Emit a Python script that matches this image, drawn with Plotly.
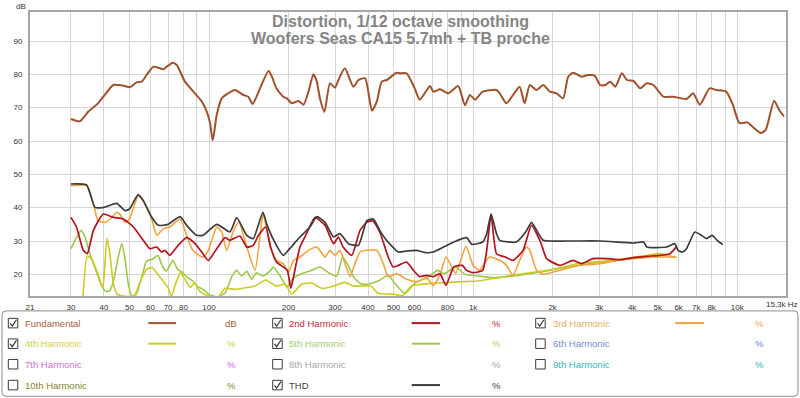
import math
import plotly.graph_objects as go

# ---------------- data ----------------
fund_f = [30, 32.4, 35, 38, 39.8, 43.4, 45.4, 47.5, 50.2, 53.2, 55.6, 58, 61.6, 64.3, 67.1, 69.2, 72.9, 75.5,
          81.1, 87.3, 93.8, 98, 100.9, 103.3, 107, 111.7, 118.2, 125.5, 134.9, 140.9, 146.3, 156, 168, 173,
          180, 191, 197, 206, 218, 228, 238, 248.5, 256, 263, 273.5, 287, 300, 309, 327, 352, 368, 390, 414,
          432, 451, 471, 513, 529, 560, 601, 628, 668, 687, 707, 749, 805, 878, 931, 972, 1016, 1087, 1226,
          1262, 1337, 1416, 1500, 1567, 1640, 1739, 1842, 1953, 2069, 2192, 2290, 2391, 2570, 2722, 2884,
          3030, 3166, 3308, 3455, 3661, 3824, 4050, 4290, 4545, 4815, 5249, 5722, 6427, 6809, 7212, 7865,
          8330, 9081, 9620, 10190, 10940, 11430, 12290, 12830, 13790, 14400, 15030]
fund_db = [66.6, 65.9, 68.9, 71.3, 73.3, 76.8, 76.8, 76.6, 76.1, 77.6, 77.8, 79.8, 82.3, 82.0, 81.5, 82.3, 83.5,
           82.8, 77.8, 74.8, 71.9, 68.9, 65.4, 60.2, 67.9, 72.8, 74.3, 75.3, 73.8, 73.3, 71.1, 75.8, 81.0,
           79.3, 75.8, 73.3, 72.8, 71.3, 72.0, 70.9, 74.8, 80.0, 77.8, 72.8, 68.7, 77.3, 76.0, 78.3, 81.8,
           76.3, 78.3, 78.8, 69.1, 71.9, 77.8, 78.3, 80.5, 80.3, 80.3, 75.8, 72.4, 75.3, 76.5, 74.8, 75.5,
           74.3, 76.5, 70.7, 73.8, 72.4, 74.8, 75.3, 74.3, 71.3, 73.8, 76.3, 71.3, 76.8, 75.3, 76.8, 74.8,
           74.3, 72.8, 79.3, 80.5, 79.3, 79.8, 79.6, 76.8, 76.8, 77.8, 76.3, 80.3, 78.3, 78.0, 75.8, 77.3,
           76.8, 73.3, 73.3, 72.6, 74.3, 70.9, 75.8, 75.3, 74.8, 70.9, 65.4, 65.6, 64.3, 62.4, 63.4, 72.1,
           69.4, 67.4]

thd_f = [30, 34.4, 37, 40, 44.7, 48.1, 50, 53.9, 56.4, 60.7, 64.3, 70, 77.7, 82.3, 89.8, 95, 107, 120, 127.3,
         139, 147, 160, 166, 180, 191, 202, 221, 241, 256, 275, 296, 313, 337, 368, 396, 419, 443, 470, 521,
         560, 610, 660, 707, 774, 845, 945, 988, 1087, 1126, 1170, 1226, 1262, 1457, 1591, 1663, 1739, 1842,
         2257, 3030, 4050, 4420, 4545, 5392, 5799, 5970, 6200, 6427, 6910, 7320, 7650, 8030, 8450, 8820]
thd_db = [47.1, 46.8, 40.1, 40.1, 41.3, 39.1, 39.6, 43.9, 42.1, 37.1, 34.7, 35.0, 37.3, 34.7, 31.7, 31.7, 35.0,
          32.7, 37.0, 31.7, 30.7, 38.6, 34.7, 28.7, 25.7, 27.7, 31.2, 34.2, 37.3, 35.6, 31.2, 32.2, 29.2, 28.7,
          36.1, 36.6, 33.2, 30.2, 26.7, 27.0, 27.2, 26.5, 26.7, 28.2, 29.7, 31.0, 29.0, 29.7, 32.2, 38.1, 32.2,
          30.2, 29.7, 33.0, 35.6, 33.2, 30.2, 30.0, 30.0, 29.4, 29.7, 28.2, 28.2, 29.2, 27.2, 26.7, 27.7, 32.7,
          31.7, 30.7, 31.7, 30.0, 28.9]

h2_f = [30, 31.5, 33.4, 34.6, 36.5, 39.8, 43.4, 47.4, 51.7, 56.4, 59.8, 63.4, 66.1, 68, 71.1, 75.5, 82.3, 88.6,
        92.4, 99.4, 107, 115, 120, 131, 139, 147, 154, 164, 171, 180, 191, 198, 204, 209, 221, 234, 252, 275,
        296, 309, 322, 347, 373, 396, 417, 443, 477, 498, 521, 560, 594, 628, 668, 707, 749, 789, 845, 911,
        945, 1000, 1087, 1126, 1170, 1226, 1324, 1416, 1546, 1663, 1800, 1899, 2130, 2391, 2570, 2844, 3213,
        3608, 4050, 4545, 5100, 5560, 5900]
h2_db = [37.1, 34.2, 27.2, 26.2, 33.2, 38.1, 37.1, 36.6, 34.2, 30.2, 27.7, 28.2, 26.7, 27.2, 25.7, 28.2, 31.0,
         29.2, 27.4, 24.2, 27.7, 31.0, 30.2, 31.5, 28.2, 28.7, 31.7, 34.2, 28.2, 23.7, 22.2, 21.2, 15.8, 19.3,
         28.2, 32.2, 37.1, 34.7, 29.2, 31.2, 28.2, 25.7, 33.2, 35.6, 36.1, 32.7, 25.2, 22.2, 22.7, 23.7, 21.2,
         19.3, 19.7, 19.3, 20.2, 16.7, 22.2, 22.7, 21.2, 20.5, 21.2, 27.2, 38.0, 26.2, 25.2, 24.2, 27.2, 34.7,
         29.7, 24.7, 22.7, 24.2, 23.2, 24.7, 24.7, 24.4, 25.0, 25.4, 25.7, 26.2, 28.3]

h3_f = [30, 34.4, 36.5, 38, 40.3, 42.3, 44.7, 46, 48.1, 50, 53.9, 56.4, 60.7, 63.4, 67.1, 71.1, 77.7, 82.3, 86.1,
        89.8, 95, 99.4, 107, 111.7, 116.6, 124, 129.8, 139, 149.4, 158.5, 160.6, 171, 180, 191, 200, 209, 221,
        238, 256, 275, 287, 300, 313, 342, 357, 373, 396, 432, 457, 477, 513, 560, 610, 668, 707, 750, 790,
        858, 940, 1000, 1058, 1152, 1262, 1337, 1416, 1500, 1591, 1640, 1739, 1842, 2130, 2534, 3030, 3500,
        4050, 4815, 5880]
h3_db = [46.6, 46.6, 41.1, 36.1, 35.6, 36.6, 38.6, 38.0, 35.6, 36.6, 43.6, 42.1, 36.6, 31.7, 33.7, 34.2, 36.6,
         31.7, 27.7, 26.2, 25.2, 27.2, 34.2, 32.7, 27.2, 33.2, 35.6, 28.2, 21.2, 36.1, 38.1, 28.2, 24.2, 23.2,
         20.7, 24.2, 25.2, 27.2, 28.2, 25.2, 27.2, 25.7, 27.2, 19.3, 23.2, 26.7, 27.2, 27.2, 23.2, 19.3, 20.2,
         18.5, 17.8, 18.8, 16.7, 20.0, 25.2, 20.3, 28.4, 22.7, 21.2, 25.2, 24.2, 22.7, 19.7, 24.2, 28.2, 27.2,
         21.2, 20.0, 21.2, 22.7, 23.2, 24.2, 24.7, 25.2, 25.2]

h4_f = [33.3, 34.6, 36, 38, 39.6, 40.3, 41, 42, 43.5, 45, 47, 52, 55, 58, 61, 64, 67, 70, 72, 75, 78, 81, 85,
        88, 92, 96, 100, 108, 115, 125, 134, 149, 164, 179, 194, 206, 224, 245, 267, 291, 327, 352, 409, 437,
        505, 540, 584, 677, 779, 911, 1043, 1205, 1416, 1640, 1899, 2192, 2534, 2944, 3405, 3930, 4545, 5100,
        5900]
h4_db = [13.0, 25.5, 24.5, 20.0, 16.0, 22.0, 30.7, 27.0, 17.0, 14.0, 13.5, 13.5, 18.0, 21.5, 22.0, 20.0, 18.0,
         16.0, 13.5, 17.5, 20.5, 18.5, 16.0, 17.5, 15.0, 14.0, 13.5, 13.0, 15.8, 15.5, 15.8, 16.5, 18.3, 16.5,
         17.0, 14.1, 17.0, 17.4, 15.8, 16.3, 17.6, 16.5, 16.5, 14.3, 14.0, 13.6, 16.5, 17.2, 17.5, 17.8, 18.0,
         18.8, 19.8, 20.5, 21.2, 22.2, 23.3, 23.8, 24.2, 25.0, 25.7, 26.2, 25.0]

h5_f = [30, 31.5, 32.8, 34, 35.4, 37, 39, 40.5, 42, 43.5, 45, 46.7, 48, 49.5, 51, 53, 56, 58, 61, 64, 66.5, 69,
        73, 76, 79, 83, 87, 90, 95, 100, 108, 115, 122, 127, 133, 139, 145, 151, 160, 171, 175, 186, 197, 209,
        224, 245, 263, 287, 305, 320, 334, 352, 373, 396, 437, 477, 505, 552, 601, 677, 736, 779, 858, 931,
        1043, 1205, 1416, 1640, 1899, 2192, 2534, 2944, 3405, 3930, 4100]
h5_db = [27.7, 31.0, 33.2, 31.0, 26.0, 22.0, 17.0, 15.0, 15.0, 18.0, 24.0, 29.2, 25.0, 17.0, 13.5, 14.0, 20.0,
         24.0, 24.5, 25.7, 22.5, 21.0, 24.2, 21.5, 20.7, 19.0, 18.0, 16.5, 15.5, 14.0, 13.2, 14.4, 19.3, 21.2,
         19.5, 20.9, 18.5, 20.5, 19.5, 21.2, 22.2, 19.5, 16.3, 19.0, 20.2, 21.2, 22.2, 20.2, 19.5, 25.2, 23.2,
         19.3, 17.3, 17.0, 18.0, 19.7, 17.3, 14.3, 17.3, 19.3, 21.2, 20.2, 22.2, 20.0, 19.5, 19.0, 19.5, 20.2,
         21.0, 22.0, 22.8, 23.5, 24.0, 24.8, 25.0]

x_grid = [21, 30, 40, 50, 60, 70, 80, 90, 100, 200, 300, 400, 500, 600, 700, 800, 900,
          1000, 2000, 3000, 4000, 5000, 6000, 7000, 8000, 9000, 10000, 15300]
x_labels = ["21", "30", "40", "50", "60", "70", "80", "", "100", "200", "300", "400", "500", "600", "",
            "800", "", "1k", "2k", "3k", "4k", "5k", "6k", "7k", "8k", "", "10k", ""]
y_ticks = [20, 30, 40, 50, 60, 70, 80, 90]

title_lines = ["Distortion, 1/12 octave smoothing", "Woofers Seas CA15 5.7mh + TB proche"]

legend_names = ["Fundamental", "2nd Harmonic", "3rd Harmonic",
                "4th Harmonic", "5th Harmonic", "6th Harmonic",
                "7th Harmonic", "8th Harmonic", "9th Harmonic",
                "10th Harmonic", "THD"]
legend_units = ["dB", "%", "%", "%", "%", "%", "%", "%", "%", "%", "%"]
legend_checked = [True, True, True, True, True, False, False, False, False, False, True]

# ---------------- styling ----------------
C_FUND, C_H2, C_H3, C_H4, C_H5, C_THD = "#A0522D", "#B3121E", "#F2A23A", "#CDCB22", "#9CC84C", "#3C3C3C"
line_colors = [C_FUND, C_H2, C_H3, C_H4, C_H5, None, None, None, None, None, C_THD]
text_colors = ["#A4623F", "#C42A3A", "#E6AE5E", "#CFCF3E", "#A6CE6C", "#6F8ED0",
               "#D070D8", "#A8A8A8", "#2FB6C0", "#86862E", "#404040"]

W, H = 800, 398
L, R, T, B = 30, 786, 10, 296


def px(x):
    return (x - L) / (R - L)


def py(y):
    return (B - y) / (B - T)


FONT = "Liberation Sans, Arial, sans-serif"

fig = go.Figure()
traces = [
    (fund_f, fund_db, C_FUND, 2.0, 0.6),
    (h5_f, h5_db, C_H5, 1.6, 0.5),
    (h4_f, h4_db, C_H4, 1.6, 0.5),
    (h3_f, h3_db, C_H3, 1.6, 0.5),
    (h2_f, h2_db, C_H2, 1.7, 0.5),
    (thd_f, thd_db, C_THD, 1.7, 0.5),
]
for f, v, c, w, s in traces:
    fig.add_trace(go.Scatter(x=f, y=v, mode="lines",
                             line=dict(color=c, width=w, shape="spline", smoothing=s),
                             hoverinfo="skip", showlegend=False, cliponaxis=True))

annotations = []
shapes = []

# title
for i, t in enumerate(title_lines):
    annotations.append(dict(text="<b>" + t + "</b>", x=px(400), y=py(20 + 17 * i), xref="paper", yref="paper",
                            xanchor="center", yanchor="middle", showarrow=False,
                            font=dict(family=FONT, size=16, color="#858585")))
# dB label & Hz label
annotations.append(dict(text="dB", x=px(21), y=py(4), xref="paper", yref="paper", xanchor="center",
                        yanchor="middle", showarrow=False, font=dict(family=FONT, size=8, color="#333")))
annotations.append(dict(text="15,3k Hz", x=px(782), y=py(304.5), xref="paper", yref="paper", xanchor="center",
                        yanchor="middle", showarrow=False, font=dict(family=FONT, size=8, color="#333")))

# legend frame (rounded)
x0, x1, y0, y1, r = 2, 798, 311, 397, 4
path = (f"M {px(x0 + r)},{py(y0)} L {px(x1 - r)},{py(y0)} Q {px(x1)},{py(y0)} {px(x1)},{py(y0 + r)} "
        f"L {px(x1)},{py(y1 - r)} Q {px(x1)},{py(y1)} {px(x1 - r)},{py(y1)} "
        f"L {px(x0 + r)},{py(y1)} Q {px(x0)},{py(y1)} {px(x0)},{py(y1 - r)} "
        f"L {px(x0)},{py(y0 + r)} Q {px(x0)},{py(y0)} {px(x0 + r)},{py(y0)} Z")
shapes.append(dict(type="path", path=path, xref="paper", yref="paper",
                   line=dict(color="#8C8C8C", width=1), fillcolor="white", layer="below"))

row_y = [323.3, 344.0, 364.7, 385.7]
cols = [
    dict(box=8.3, text=23.3, l0=148.3, l1=176.0, unit=231.0),
    dict(box=272.7, text=287.3, l0=411.7, l1=440.0, unit=496.0),
    dict(box=535.7, text=551.0, l0=675.3, l1=704.0, unit=759.3),
]
for i, name in enumerate(legend_names):
    row, col = divmod(i, 3)
    c = cols[col]
    yc = row_y[row]
    bx = c["box"]
    shapes.append(dict(type="rect", xref="paper", yref="paper", x0=px(bx), x1=px(bx + 9.5),
                       y0=py(yc - 4.8), y1=py(yc + 4.8), line=dict(color="#3A3A3A", width=1),
                       fillcolor="white"))
    if legend_checked[i]:
        chk = (f"M {px(bx + 1.8)},{py(yc + 0.2)} L {px(bx + 4.0)},{py(yc + 3.0)} "
               f"L {px(bx + 8.2)},{py(yc - 3.4)}")
        shapes.append(dict(type="path", path=chk, xref="paper", yref="paper",
                           line=dict(color="#333333", width=1.2)))
    annotations.append(dict(text=name, x=px(c["text"]), y=py(yc), xref="paper", yref="paper",
                            xanchor="left", yanchor="middle", showarrow=False,
                            font=dict(family=FONT, size=9.5, color=text_colors[i])))
    if line_colors[i] is not None:
        shapes.append(dict(type="line", xref="paper", yref="paper", x0=px(c["l0"]), x1=px(c["l1"]),
                           y0=py(yc), y1=py(yc), line=dict(color=line_colors[i], width=2)))
    annotations.append(dict(text=legend_units[i], x=px(c["unit"]), y=py(yc), xref="paper", yref="paper",
                            xanchor="center", yanchor="middle", showarrow=False,
                            font=dict(family=FONT, size=9.5, color=text_colors[i])))

fig.update_layout(
    width=W, height=H,
    margin=dict(l=L, r=W - R, t=T, b=H - B, pad=0),
    paper_bgcolor="white", plot_bgcolor="white",
    showlegend=False,
    annotations=annotations,
    shapes=shapes,
    xaxis=dict(type="log", range=[math.log10(21), math.log10(15300)],
               tickmode="array", tickvals=x_grid, ticktext=x_labels,
               showgrid=True, gridcolor="#D6D6D6", gridwidth=1,
               showline=True, mirror=True, linecolor="#A6A6A6", linewidth=2,
               ticks="outside", ticklen=2, tickcolor="rgba(0,0,0,0)",
               tickfont=dict(family=FONT, size=8, color="#333"), zeroline=False, fixedrange=True),
    yaxis=dict(range=[13.5, 98.7], tickmode="array", tickvals=y_ticks,
               ticktext=[str(v) for v in y_ticks],
               showgrid=True, gridcolor="#D6D6D6", gridwidth=1,
               showline=True, mirror=True, linecolor="#A6A6A6", linewidth=2,
               ticks="outside", ticklen=4, tickcolor="rgba(0,0,0,0)",
               tickfont=dict(family=FONT, size=8, color="#333"), zeroline=False, fixedrange=True),
)

fig.write_html("out.html", config=dict(displayModeBar=False),
               post_script="document.body.style.margin='0';document.body.style.overflow='hidden';")
